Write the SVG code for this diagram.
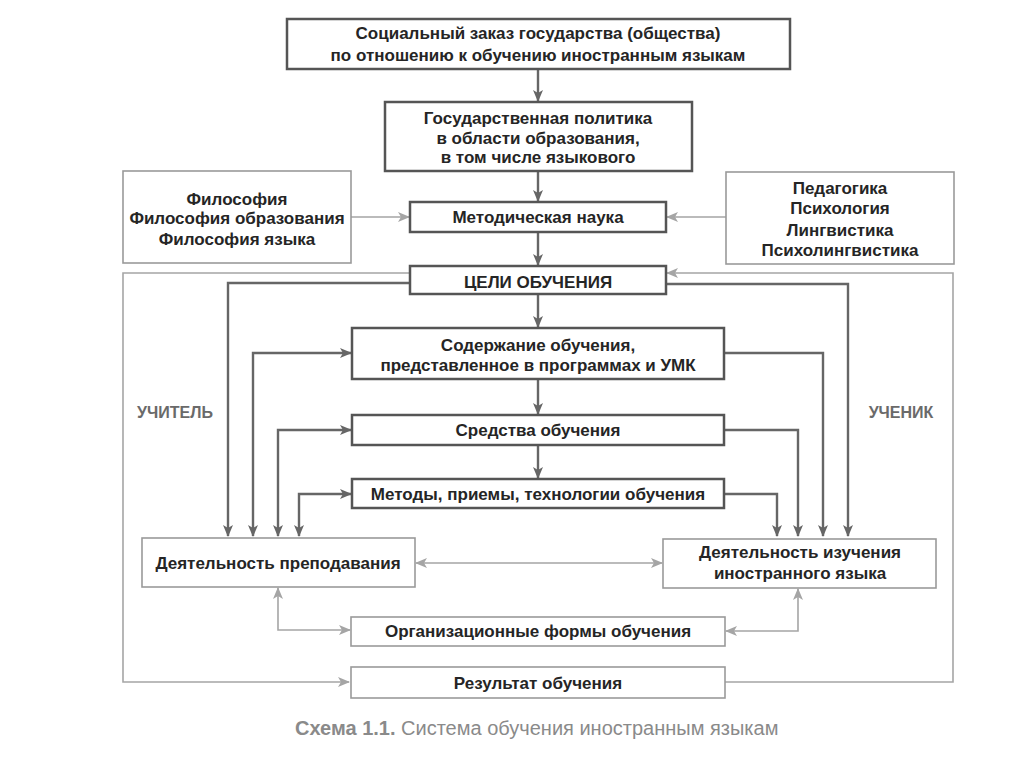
<svg xmlns="http://www.w3.org/2000/svg" width="1024" height="767" viewBox="0 0 1024 767">
<style>
text{font-family:"Liberation Sans",Arial,sans-serif;font-weight:bold;font-size:17px;fill:#252525;text-anchor:middle}
.dk{fill:#fff;stroke:#555;stroke-width:2.5}
.lt{fill:#fff;stroke:#9a9a9a;stroke-width:1.6}
.ad{fill:none;stroke:#666;stroke-width:2.4}
.al{fill:none;stroke:#a5a5a5;stroke-width:1.6}
.lbl{fill:#6a6a6a;font-size:16px}
.cap{fill:#8a8a8a;font-size:20px;text-anchor:start;font-weight:normal}
</style>
<defs>
<marker id="md" viewBox="0 0 12 10" refX="11" refY="5" markerWidth="12" markerHeight="10" markerUnits="userSpaceOnUse" orient="auto-start-reverse"><path d="M0,0 L12,5 L0,10 L3,5 z" fill="#666"/></marker>
<marker id="ml" viewBox="0 0 12 10" refX="11" refY="5" markerWidth="12" markerHeight="10" markerUnits="userSpaceOnUse" orient="auto-start-reverse"><path d="M0,0 L12,5 L0,10 L3,5 z" fill="#a5a5a5"/></marker>
</defs>
<rect width="1024" height="767" fill="#fff"/>
<g id="connectors">
<line class="ad" x1="538" y1="69" x2="538" y2="101" marker-end="url(#md)"/>
<line class="ad" x1="538" y1="171" x2="538" y2="201" marker-end="url(#md)"/>
<line class="ad" x1="538" y1="232" x2="538" y2="265" marker-end="url(#md)"/>
<line class="ad" x1="538" y1="294" x2="538" y2="327" marker-end="url(#md)"/>
<line class="ad" x1="538" y1="379" x2="538" y2="414" marker-end="url(#md)"/>
<line class="ad" x1="538" y1="445" x2="538" y2="478" marker-end="url(#md)"/>
<line class="al" x1="351" y1="217" x2="409" y2="217" marker-end="url(#ml)"/>
<line class="al" x1="726" y1="217" x2="667" y2="217" marker-end="url(#ml)"/>
<polyline class="al" points="410,273 123,273 123,682 349,682" marker-end="url(#ml)"/>
<polyline class="al" points="725,682 953,682 953,273 667,273" marker-end="url(#ml)"/>
<polyline class="ad" points="410,283 228,283 228,536" marker-end="url(#md)"/>
<polyline class="ad" points="666,284 848,284 848,536" marker-end="url(#md)"/>
<polyline class="ad" points="253,536 253,353 351,353" marker-start="url(#md)" marker-end="url(#md)"/>
<polyline class="ad" points="724,353 823,353 823,536" marker-end="url(#md)"/>
<polyline class="ad" points="278,536 278,430 351,430" marker-start="url(#md)" marker-end="url(#md)"/>
<polyline class="ad" points="724,430 798,430 798,536" marker-end="url(#md)"/>
<polyline class="ad" points="299,536 299,494 351,494" marker-start="url(#md)" marker-end="url(#md)"/>
<polyline class="ad" points="724,494 777,494 777,536" marker-end="url(#md)"/>
<line class="al" x1="416" y1="563" x2="662" y2="563" marker-start="url(#ml)" marker-end="url(#ml)"/>
<polyline class="al" points="278,588 278,630 350,630" marker-start="url(#ml)" marker-end="url(#ml)"/>
<polyline class="al" points="798,589 798,631 726,631" marker-start="url(#ml)" marker-end="url(#ml)"/>
</g>
<g id="n-social"><rect class="dk" x="287" y="19" width="503" height="50"/><text x="538" y="39">Социальный заказ государства (общества)</text><text x="538" y="61">по отношению к обучению иностранным языкам</text></g>
<g id="n-policy"><rect class="dk" x="385" y="102" width="307" height="69"/><text x="538" y="124">Государственная политика</text><text x="538" y="144">в области образования,</text><text x="538" y="163">в том числе языкового</text></g>
<g id="n-philosophy"><rect class="lt" x="123" y="171" width="228" height="92"/><text x="237" y="205">Философия</text><text x="237" y="224">Философия образования</text><text x="237" y="245">Философия языка</text></g>
<g id="n-method"><rect class="dk" x="410" y="202" width="256" height="30"/><text x="538" y="223">Методическая наука</text></g>
<g id="n-sciences"><rect class="lt" x="726" y="172" width="228" height="92"/><text x="840" y="194">Педагогика</text><text x="840" y="214">Психология</text><text x="840" y="236">Лингвистика</text><text x="840" y="256">Психолингвистика</text></g>
<g id="n-goals"><rect class="dk" x="410" y="266" width="256" height="28"/><text x="538" y="288">ЦЕЛИ ОБУЧЕНИЯ</text></g>
<g id="n-content"><rect class="dk" x="352" y="328" width="372" height="51"/><text x="538" y="351">Содержание обучения,</text><text x="538" y="371">представленное в программах и УМК</text></g>
<g id="n-means"><rect class="dk" x="352" y="415" width="372" height="30"/><text x="538" y="436">Средства обучения</text></g>
<g id="n-methods"><rect class="dk" x="352" y="479" width="372" height="29"/><text x="538" y="500">Методы, приемы, технологии обучения</text></g>
<g id="n-teaching"><rect class="lt" x="142" y="538" width="273" height="49"/><text x="278" y="569">Деятельность преподавания</text></g>
<g id="n-learning"><rect class="lt" x="663" y="539" width="273" height="49"/><text x="800" y="558">Деятельность изучения</text><text x="800" y="579">иностранного языка</text></g>
<g id="n-forms"><rect class="lt" x="351" y="617" width="374" height="29"/><text x="538" y="637">Организационные формы обучения</text></g>
<g id="n-result"><rect class="lt" x="351" y="667" width="374" height="31"/><text x="538" y="689">Результат обучения</text></g>
<g id="labels"><text class="lbl" x="175" y="418">УЧИТЕЛЬ</text><text class="lbl" x="901" y="418">УЧЕНИК</text></g>
<g id="caption"><text class="cap" x="295" y="735"><tspan font-weight="bold">Схема 1.1.</tspan> Система обучения иностранным языкам</text></g>
</svg>
